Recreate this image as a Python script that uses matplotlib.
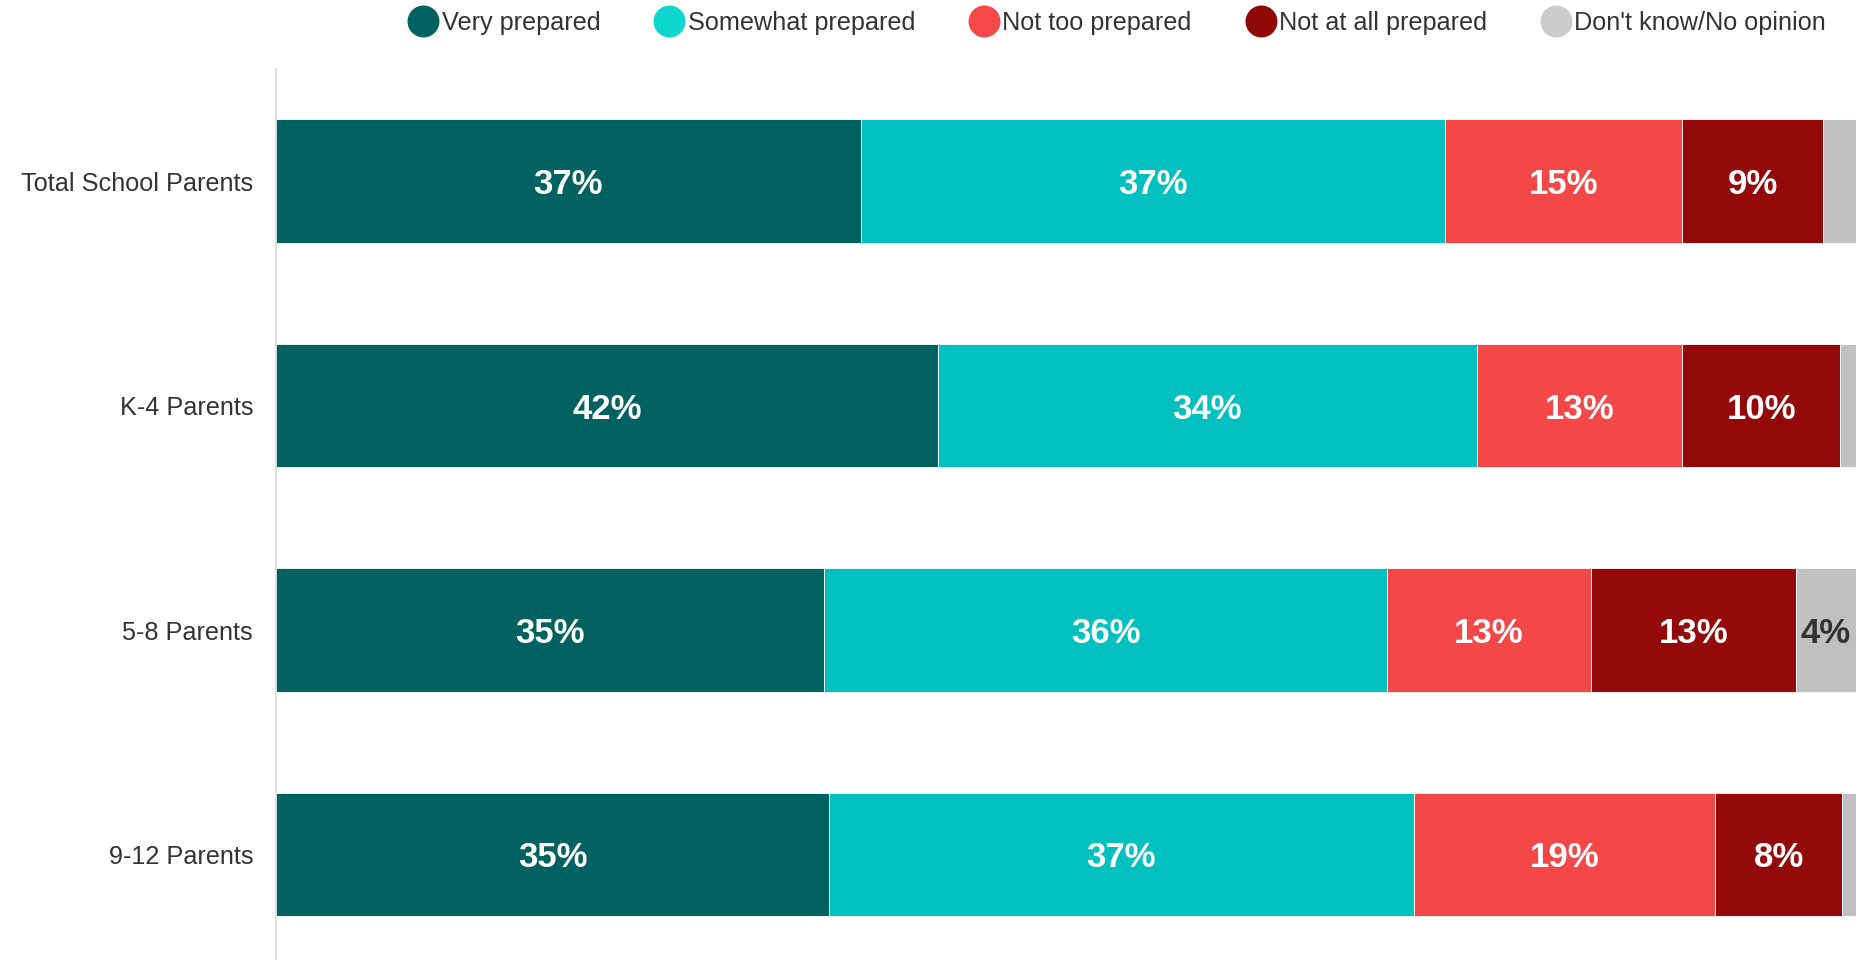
import numpy as np
import matplotlib.pyplot as plt
from matplotlib.lines import Line2D

plt.rcParams['font.family'] = ['Liberation Sans', 'DejaVu Sans']

groups = ['Total School Parents', 'K-4 Parents', '5-8 Parents', '9-12 Parents']
series = ['Very prepared', 'Somewhat prepared', 'Not too prepared',
          'Not at all prepared', "Don't know/No opinion"]
very = [37.0, 41.9, 34.7, 35.0]
somewhat = [37.0, 34.1, 35.6, 37.0]
not_too = [15.0, 13.0, 12.9, 19.1]
not_at_all = [8.9, 10.0, 13.0, 8.0]
dont_know = [2.1, 1.0, 3.8, 1.0]

bar_colors = ['#006260', '#00c0c0', '#f44848', '#940a0a', '#c0c0c0']
legend_colors = ['#006260', '#10d6d0', '#f84848', '#900808', '#cccccc']
text_colors = ['white', 'white', 'white', 'white', '#333333']

fig = plt.figure(figsize=(18.68, 9.6), dpi=100)
ax = fig.add_axes([276 / 1868, 0, (1856 - 276) / 1868, 1 - 69 / 960])

y = np.arange(len(groups))
left = np.zeros(len(groups))
for vals, col, tcol in zip([very, somewhat, not_too, not_at_all, dont_know],
                           bar_colors, text_colors):
    vals = np.array(vals)
    ax.barh(y, vals, left=left, height=0.55, color=col,
            edgecolor='white', linewidth=0.6)
    for yi, l, v in zip(y, left, vals):
        if v >= 3.5:
            ax.text(l + v / 2, yi + 0.015, f'{round(v)}%', ha='center', va='center',
                    color=tcol, fontsize=25, fontweight='bold')
    left += vals

ax.set_xlim(0, 100)
ax.set_ylim(3.47, -0.5)
ax.set_yticks(y)
ax.set_yticklabels(groups, fontsize=18.2, color='#333333')
ax.tick_params(axis='y', length=0, pad=16.5)
ax.set_xticks([])
for s in ['top', 'right', 'bottom']:
    ax.spines[s].set_visible(False)
ax.spines['left'].set_color('#d9d9d9')
ax.spines['left'].set_linewidth(1.2)

handles = [Line2D([], [], marker='o', linestyle='', markersize=22,
                  markerfacecolor=c, markeredgecolor=c) for c in legend_colors]
fig.legend(handles, series, loc='center right', bbox_to_anchor=(1826 / 1868, 1 - 23 / 960),
           ncol=5, frameon=False, fontsize=18.2, handlelength=1.25, handletextpad=0.1,
           columnspacing=2.1, labelcolor='#333333', borderaxespad=0, borderpad=0)

fig.savefig('out.png', dpi=100)
